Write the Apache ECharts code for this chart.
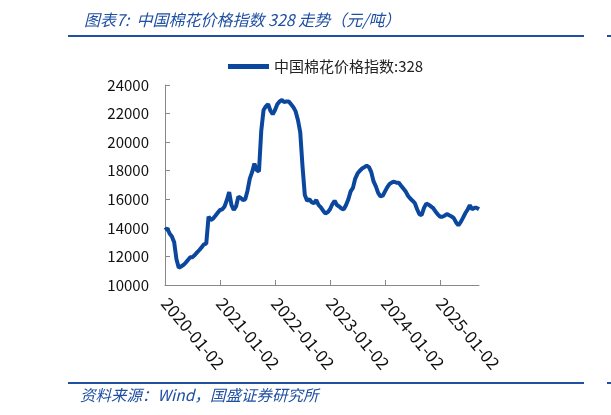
<!DOCTYPE html>
<html>
<head>
  <meta charset="UTF-8">
  <title>中国棉花价格指数 328 走势</title>
  <script src="https://cdn.jsdelivr.net/npm/echarts@6/dist/echarts.min.js"></script>
  <style>
    html, body { margin: 0; padding: 0; background: #fff; }
    #chart { width: 611px; height: 415px; }
  </style>
</head>
<body>
  <div id="chart"></div>
  <script>
// 数据：半月一个点（每年 24 个），从 2020-01-02 开始
const xLabels = ['2020-01-02', '2021-01-02', '2022-01-02', '2023-01-02', '2024-01-02', '2025-01-02']
const perYear = 24
const price = [
  13850, 13970, 13600, 13400, 13000, 11800, 11200, 11300, 11400, 11550, 11750, 11940,
  11950, 12100, 12280, 12450, 12650, 12850, 12900, 14780, 14550, 14650, 14850, 15050,
  15250, 15300, 15500, 15950, 16500, 15600, 15250, 15500, 16180, 16100, 15950, 16000,
  16600, 17450, 17900, 18500, 18050, 17950, 20800, 22250, 22500, 22650, 22200, 21950,
  22250, 22650, 22850, 22950, 22800, 22850, 22850, 22650, 22450, 22150, 21550, 20700,
  18300, 16300, 15900, 16000, 15800, 15720, 15950, 15600, 15430, 15200, 15000, 15100,
  15300, 15650, 15900, 15600, 15500, 15350, 15300, 15600, 16000, 16550, 16800, 17450,
  17800, 18000, 18150, 18250, 18350, 18250, 17900, 17250, 16900, 16450, 16200, 16250,
  16550, 16850, 17080, 17180, 17230, 17160, 17160, 16950, 16750, 16550, 16250, 16050,
  15900, 15730, 15300, 14950, 14900, 15400, 15700, 15620, 15500, 15380, 15150, 14950,
  14780, 14780, 14850, 14970, 14880, 14800, 14680, 14380, 14180, 14400, 14700, 15020,
  15270, 15580, 15300, 15400, 15400, 15300
]
const seriesName = '中国棉花价格指数:328'
const titleText = '图表7:  中国棉花价格指数 328 走势（元/吨）'
const sourceText = '资料来源：Wind，国盛证券研究所'

const blue = '#1f50a2'
const cjk = '"Noto Sans CJK SC", "Noto Sans", sans-serif'

const echart = echarts.init(document.getElementById('chart'))
option = {
  animation: false,
  textStyle: { fontFamily: cjk },
  title: {
    text: titleText,
    left: 79,
    top: 7,
    textStyle: { color: blue, fontSize: 16, fontStyle: 'italic', fontWeight: 'normal', fontFamily: cjk }
  },
  graphic: [
    { type: 'line', shape: { x1: 68, y1: 36, x2: 584, y2: 36 }, style: { stroke: blue, lineWidth: 2 } },
    { type: 'line', shape: { x1: 607, y1: 36, x2: 611, y2: 36 }, style: { stroke: blue, lineWidth: 2 } },
    { type: 'line', shape: { x1: 68, y1: 383, x2: 584, y2: 383 }, style: { stroke: blue, lineWidth: 2 } },
    { type: 'line', shape: { x1: 607, y1: 383, x2: 611, y2: 383 }, style: { stroke: blue, lineWidth: 2 } },
    {
      type: 'text', left: 80, top: 387,
      style: { text: sourceText, fill: blue, font: 'italic 15.5px ' + cjk }
    }
  ],
  legend: {
    data: [seriesName],
    left: 223,
    top: 54,
    icon: 'rect',
    itemWidth: 41,
    itemHeight: 5,
    itemGap: 5,
    textStyle: { fontSize: 15, color: '#222', fontFamily: cjk }
  },
  grid: {
    left: 165,
    right: 132,
    top: 85,
    bottom: 130
  },
  xAxis: {
    type: 'category',
    boundaryGap: false,
    data: price.map((v, i) => i),
    axisLine: { lineStyle: { color: '#888', width: 1 } },
    axisTick: { inside: true, length: 5, interval: perYear - 1, lineStyle: { color: '#888' } },
    axisLabel: {
      interval: perYear - 1,
      rotate: -50,
      margin: 15,
      fontSize: 17,
      color: '#111',
      fontFamily: cjk,
      formatter: (v, i) => xLabels[i / perYear] || ''
    },
    splitLine: { show: false }
  },
  yAxis: {
    type: 'value',
    min: 10000,
    max: 24000,
    interval: 2000,
    axisLine: { show: true, lineStyle: { color: '#888', width: 1 } },
    axisTick: { show: true, inside: true, length: 5, lineStyle: { color: '#888' } },
    axisLabel: { fontSize: 15, color: '#111', margin: 16, fontFamily: cjk, formatter: v => String(v) },
    splitLine: { show: false }
  },
  series: [{
    name: seriesName,
    type: 'line',
    data: price,
    showSymbol: false,
    color: '#0b479d',
    lineStyle: { width: 4, color: '#0b479d' }
  }]
}
echart.setOption(option)
  </script>
</body>
</html>
